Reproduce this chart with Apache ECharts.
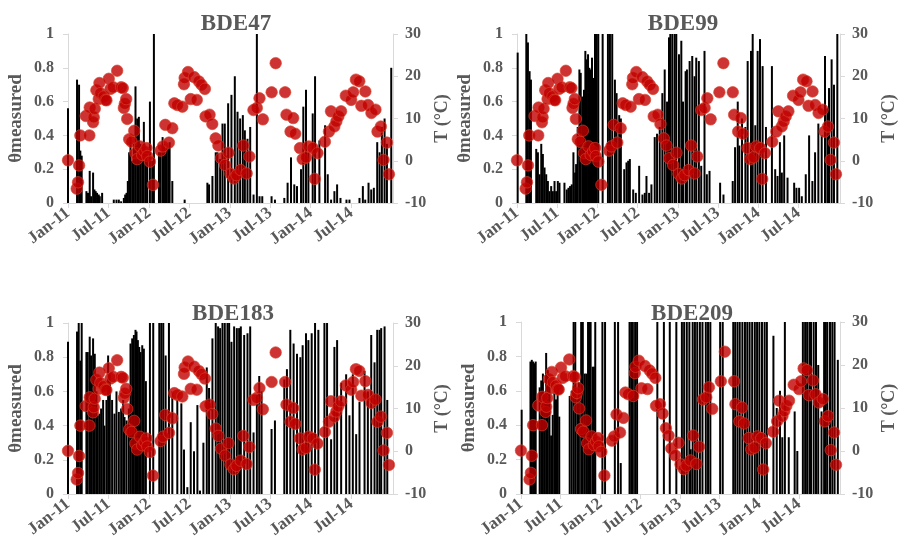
<!DOCTYPE html>
<html><head><meta charset="utf-8">
<script src="https://cdn.jsdelivr.net/npm/echarts@6/dist/echarts.min.js"></script>
<style>html,body{margin:0;padding:0;background:#fff}#c{width:899px;height:555px}</style>
</head><body><div id="c"></div>
<script>
// x values: months since Jan 2011
var tickLabels = ['Jan-11','Jul-11','Jan-12','Jul-12','Jan-13','Jul-13','Jan-14','Jul-14'];
var panelTitles = ['BDE47','BDE99','BDE183','BDE209'];

var tempData = [[0,0.1],[1.29,-6.6],[1.49,-5.1],[1.64,-1.1],[1.83,6.0],[2.63,10.6],[3.17,6.0],[3.22,12.6],[3.72,9.1],[3.82,10.3],[3.97,12.3],[4.21,16.7],[4.56,14.6],[4.66,18.4],[4.81,16.0],[5.30,15.2],[5.55,14.4],[5.70,14.3],[6.05,19.4],[6.30,17.0],[6.69,17.4],[7.29,21.3],[7.88,17.4],[8.13,17.2],[8.28,12.5],[8.43,13.5],[8.63,14.6],[8.78,9.9],[9.07,5.1],[9.42,4.5],[9.82,7.1],[10.0,1.8],[10.26,0.4],[10.66,3.4],[11.0,1.4],[11.35,2.2],[11.65,3.0],[11.75,1.1],[12.15,-0.2],[12.6,-5.7],[13.73,2.4],[14.08,3.4],[14.43,8.5],[14.97,4.3],[15.47,7.7],[15.77,13.6],[16.2,13.2],[16.96,12.8],[17.2,18.1],[17.3,19.6],[17.8,21.0],[18.2,14.6],[18.7,19.8],[19.1,14.4],[19.4,18.8],[19.8,18.0],[20.3,17.0],[20.4,10.5],[21.0,10.9],[21.4,8.7],[21.9,5.3],[22.3,3.6],[22.7,0.6],[23.3,-1.0],[23.8,1.9],[24.1,-3.1],[24.6,-4.2],[25.0,-3.4],[25.6,-2.2],[26.0,3.6],[26.5,-3.0],[26.9,1.0],[27.5,12.0],[28.0,12.5],[28.4,14.8],[28.9,9.8],[30.2,16.2],[30.8,23.1],[32.2,16.2],[32.4,10.9],[33.0,6.9],[33.4,10.1],[33.7,6.4],[34.4,3.0],[34.8,0.4],[35.3,0.8],[35.7,3.4],[36.3,3.0],[36.6,-4.3],[37.0,1.8],[38.1,4.5],[38.7,6.9],[39.0,11.7],[39.5,8.1],[39.8,9.3],[40.1,10.5],[40.5,11.7],[41.2,15.4],[42.0,14.4],[42.3,16.2],[42.7,19.2],[43.2,18.8],[43.5,13.0],[44.1,16.4],[44.5,13.2],[45.0,11.3],[45.6,12.1],[45.9,6.9],[46.4,8.1],[46.8,0.2],[47.3,4.3],[47.6,-3.2]];

var bde47 = [[0,0.56],[1.34,0.73],[1.64,0.70],[1.83,0.31],[2.03,0.28],[2.73,0.07],[2.97,0.06],[3.22,0.19],[3.42,0.04],[3.72,0.18],[3.92,0.08],[4.11,0.07],[4.31,0.06],[4.56,0.05],[4.71,0.04],[5.06,0.06],[6.79,0.02],[7.19,0.02],[7.54,0.02],[7.88,0.01],[8.28,0.03],[8.48,0.05],[8.68,0.06],[8.87,0.13],[9.07,0.30],[9.27,0.40],[9.52,0.25],[9.77,0.35],[10.01,0.69],[10.26,0.50],[10.51,0.51],[10.76,0.35],[11.01,0.28],[11.25,0.48],[11.55,0.30],[11.75,0.25],[12.15,0.60],[12.49,0.25],[12.74,1.00],[13.49,0.30],[13.73,0.30],[14.03,0.39],[14.23,0.35],[14.43,0.30],[14.63,0.33],[14.87,0.33],[15.07,0.36],[15.47,0.13],[17.30,0.02],[20.67,0.12],[20.92,0.11],[21.42,0.16],[21.91,0.30],[22.16,0.30],[22.56,0.26],[22.91,0.47],[23.25,0.47],[23.75,0.59],[24.24,0.64],[24.74,0.75],[25.14,0.54],[25.53,0.50],[25.93,0.52],[26.23,0.43],[26.62,0.38],[27.02,0.45],[27.52,0.05],[28.01,1.00],[28.41,0.04],[28.81,0.04],[30.19,0.04],[30.69,0.02],[32.08,0.03],[32.57,0.12],[33.07,0.27],[33.56,0.11],[33.96,0.10],[34.56,0.20],[34.90,0.57],[35.30,0.67],[35.65,0.30],[36.29,0.53],[36.64,0.75],[37.28,0.37],[38.13,0.46],[38.52,0.17],[39.02,0.02],[39.51,0.07],[39.91,0.11],[40.41,0.03],[41.30,0.02],[41.74,0.02],[43.23,0.03],[43.73,0.10],[44.08,0.02],[44.57,0.12],[44.97,0.08],[45.36,0.09],[45.86,0.36],[46.21,0.30],[46.55,0.45],[46.95,0.50],[47.30,0.35],[47.94,0.80]];

var bde99 = [[0.10,0.89],[1.39,1.00],[1.63,0.95],[1.88,0.78],[2.08,0.73],[2.87,0.32],[3.12,0.30],[3.37,0.17],[3.62,0.35],[3.86,0.29],[4.11,0.21],[4.36,0.17],[4.61,0.13],[4.85,0.07],[5.10,0.10],[5.35,0.07],[5.60,0.13],[5.84,0.07],[6.09,0.13],[6.34,0.12],[7.08,0.12],[7.43,0.08],[7.68,0.09],[7.92,0.10],[8.17,0.11],[8.42,0.30],[8.67,0.18],[8.82,0.23],[9.06,0.45],[9.31,0.79],[9.51,0.77],[9.76,0.63],[10.00,0.67],[10.20,0.90],[10.40,0.85],[10.60,0.88],[10.80,0.80],[11.00,0.79],[11.19,0.86],[11.39,0.74],[11.64,1.00],[11.89,1.00],[12.13,1.00],[12.78,1.00],[13.57,1.00],[13.87,1.00],[14.21,1.00],[14.61,0.73],[14.86,0.65],[15.25,0.52],[15.50,0.50],[16.00,0.20],[16.34,0.24],[16.59,0.25],[16.84,0.26],[17.34,0.08],[17.73,0.06],[18.23,0.22],[18.72,0.05],[19.07,0.06],[19.32,0.16],[19.71,0.06],[20.06,0.11],[20.55,0.39],[20.90,0.41],[21.30,0.45],[21.69,0.65],[22.04,0.79],[22.39,0.60],[22.68,0.98],[22.88,1.00],[23.18,1.00],[23.53,1.00],[23.77,1.00],[24.17,0.88],[24.52,0.96],[24.77,0.60],[25.16,0.78],[25.36,0.79],[25.76,0.84],[26.15,0.87],[26.50,0.75],[26.75,0.86],[27.14,0.84],[27.49,0.22],[27.98,0.90],[28.33,0.17],[28.73,0.19],[30.31,0.12],[30.81,0.05],[32.19,0.13],[32.54,0.33],[32.94,0.60],[33.18,0.34],[33.58,0.50],[34.08,0.45],[34.42,0.84],[34.92,0.90],[35.17,1.00],[35.56,0.46],[35.91,0.90],[36.26,0.97],[36.65,0.81],[37.15,0.45],[38.04,0.81],[38.53,0.20],[38.88,0.16],[39.23,0.36],[39.52,0.18],[39.87,0.40],[40.37,0.15],[41.36,0.12],[41.70,0.09],[42.10,0.09],[42.50,0.04],[43.09,0.17],[43.59,0.40],[44.08,0.13],[44.48,0.30],[44.97,0.47],[45.47,0.40],[45.96,0.87],[46.31,0.56],[46.56,0.68],[46.95,0.85],[47.30,0.70],[47.80,1.00]];

var bde183 = [[0,0.89],[1.34,0.95],[1.59,1.00],[1.83,0.78],[2.03,1.00],[2.73,0.83],[2.93,0.83],[3.22,0.92],[3.42,0.81],[3.72,0.91],[3.97,0.82],[4.21,0.60],[4.41,0.46],[4.66,0.47],[4.91,0.50],[5.21,0.55],[5.40,0.40],[5.70,0.55],[5.95,0.81],[6.20,0.70],[6.54,0.55],[6.89,0.47],[7.19,0.60],[7.54,0.48],[7.88,0.50],[8.18,0.55],[8.38,0.45],[8.68,0.43],[9.02,0.50],[9.27,0.88],[9.52,0.91],[9.77,0.93],[10.01,0.96],[10.16,0.95],[10.36,0.90],[10.56,0.86],[10.76,0.83],[11.01,0.87],[11.25,0.85],[11.55,0.66],[12.15,1.00],[12.64,1.00],[13.54,1.00],[13.83,1.00],[14.13,1.00],[14.48,0.81],[14.97,1.00],[15.47,0.60],[16.21,0.55],[16.81,0.53],[17.20,0.26],[17.70,0.04],[18.20,0.42],[18.69,0.25],[19.19,0.52],[19.58,0.02],[20.08,0.30],[20.58,0.74],[20.92,0.62],[21.42,0.91],[21.91,1.00],[22.26,0.98],[22.56,0.97],[22.91,1.00],[23.25,1.00],[23.65,1.00],[23.90,1.00],[24.24,0.89],[24.64,0.98],[25.04,0.97],[25.38,0.97],[25.63,0.98],[26.13,0.93],[26.62,0.94],[27.02,0.98],[27.52,0.36],[28.01,0.58],[28.36,0.69],[28.71,0.60],[30.19,0.38],[30.69,0.43],[32.08,0.67],[32.47,0.73],[32.97,0.96],[33.46,0.88],[33.96,0.82],[34.46,0.80],[34.80,0.87],[35.30,0.94],[35.65,0.90],[36.14,0.94],[36.64,1.00],[37.13,0.96],[38.03,1.00],[38.42,1.00],[39.02,0.32],[39.51,0.86],[39.91,0.90],[40.51,0.65],[41.25,0.70],[41.74,0.46],[42.24,0.70],[42.74,0.35],[43.23,0.54],[43.98,0.72],[44.47,0.60],[44.97,0.93],[45.46,0.77],[45.86,0.96],[46.21,0.96],[46.45,0.97],[46.95,0.98],[47.35,0.55]];

var bde209 = [[0.10,0.49],[1.43,0.77],[1.63,0.78],[1.83,0.77],[2.03,0.76],[2.22,0.77],[2.82,0.62],[3.06,0.66],[3.31,0.70],[3.56,0.58],[3.80,0.82],[4.05,0.72],[4.30,0.65],[4.55,0.34],[4.79,0.46],[5.04,0.60],[5.29,0.55],[5.53,0.62],[5.78,0.45],[7.36,0.57],[7.66,0.60],[7.95,1.00],[8.20,1.00],[8.50,0.55],[8.75,0.65],[9.09,1.00],[9.34,1.00],[9.63,0.70],[9.88,0.70],[10.13,1.00],[10.33,1.00],[10.52,1.00],[10.82,0.74],[11.02,0.74],[11.22,1.00],[12.30,1.00],[12.70,1.00],[14.18,1.00],[14.67,1.00],[15.07,0.18],[16.40,1.00],[16.65,1.00],[16.90,1.00],[17.24,1.00],[17.54,1.00],[20.60,1.00],[21.59,1.00],[22.48,1.00],[23.47,1.00],[24.31,1.00],[24.65,1.00],[25.05,1.00],[25.44,1.00],[25.64,0.26],[25.94,1.00],[26.28,1.00],[26.63,1.00],[27.03,1.00],[27.42,1.00],[27.92,1.00],[28.26,1.00],[28.61,1.00],[30.09,1.00],[30.48,1.00],[32.07,1.00],[32.36,1.00],[32.71,1.00],[33.05,1.00],[33.45,1.00],[33.84,1.00],[34.19,1.00],[34.54,1.00],[34.93,1.00],[35.33,1.00],[35.67,1.00],[36.02,1.00],[36.41,1.00],[36.81,1.00],[37.15,1.00],[38.14,0.92],[38.64,0.50],[39.13,0.60],[39.48,0.33],[39.87,1.00],[40.46,0.33],[41.35,0.48],[41.75,0.25],[42.59,1.00],[42.93,1.00],[43.23,1.00],[43.58,1.00],[43.82,1.00],[44.22,1.00],[44.57,1.00],[44.91,0.75],[45.41,0.48],[45.80,1.00],[46.05,1.00],[46.29,1.00],[46.69,1.00],[47.04,1.00],[47.38,1.00],[47.87,0.78]];

var barSets = [bde47, bde99, bde183, bde209];

var grids = [
  {left:68, top:34, width:325, height:169},
  {left:517, top:34, width:323, height:169},
  {left:68, top:323, width:325, height:171},
  {left:521, top:322, width:323, height:172}
];
var titlePos = [[231,8],[678,8],[228,298],[687,298]];

var FONT = 'Liberation Serif';
var GRAY = '#595959';
var AXC = '#d9d9d9';
var tickVals = tickLabels.map(function(_,i){return i*6;});

var option = {animation:false, backgroundColor:'#fff', title:[], grid:[], xAxis:[], yAxis:[], series:[]};
for (var p=0;p<4;p++){
  option.title.push({text:panelTitles[p], left:titlePos[p][0], top:titlePos[p][1], textAlign:'center',
    textStyle:{fontFamily:FONT, fontWeight:'bold', fontSize:23, color:GRAY}});
  option.grid.push(grids[p]);
  option.xAxis.push({type:'value', gridIndex:p, min:0, max:48.2, interval:6,
    axisLine:{show:true, lineStyle:{color:AXC, width:1}},
    axisTick:{show:true, length:5, lineStyle:{color:AXC}, customValues:tickVals},
    splitLine:{show:false},
    axisLabel:{customValues:tickVals, rotate:38, margin:8, fontFamily:FONT, fontWeight:'bold', fontSize:17, color:GRAY,
      formatter:function(v){var i=Math.round(v/6); return tickLabels[i]||'';}}
  });
  option.yAxis.push({type:'value', gridIndex:p, min:0, max:1, interval:0.2, position:'left',
    name:'θmeasured', nameLocation:'middle', nameGap:42, nameRotate:90,
    nameTextStyle:{fontFamily:FONT, fontWeight:'bold', fontSize:19, color:GRAY},
    axisLine:{show:true, lineStyle:{color:AXC}}, axisTick:{show:true, length:5, lineStyle:{color:AXC}},
    splitLine:{show:false},
    axisLabel:{margin:14, fontFamily:FONT, fontWeight:'bold', fontSize:16, color:GRAY,
      formatter:function(v){return String(Math.round(v*10)/10);}}
  });
  option.yAxis.push({type:'value', gridIndex:p, min:-10, max:30, interval:10, position:'right',
    name:'T (°C)', nameLocation:'middle', nameGap:40, nameRotate:90,
    nameTextStyle:{fontFamily:FONT, fontWeight:'bold', fontSize:18, color:GRAY},
    axisLine:{show:true, lineStyle:{color:AXC}}, axisTick:{show:true, length:5, lineStyle:{color:AXC}},
    splitLine:{show:false},
    axisLabel:{margin:12, fontFamily:FONT, fontWeight:'bold', fontSize:16, color:GRAY}
  });
  option.series.push({type:'bar', xAxisIndex:p, yAxisIndex:2*p, data:barSets[p], barWidth:2,
    itemStyle:{color:'#000'}, z:2});
  option.series.push({type:'scatter', xAxisIndex:p, yAxisIndex:2*p+1, data:tempData, symbolSize:11.5,
    itemStyle:{color:'#c00000', borderColor:'#d9412a', borderWidth:0.8}, z:3});
}
var chart = echarts.init(document.getElementById('c'), null, {renderer:'canvas'});
chart.setOption(option);
</script></body></html>
